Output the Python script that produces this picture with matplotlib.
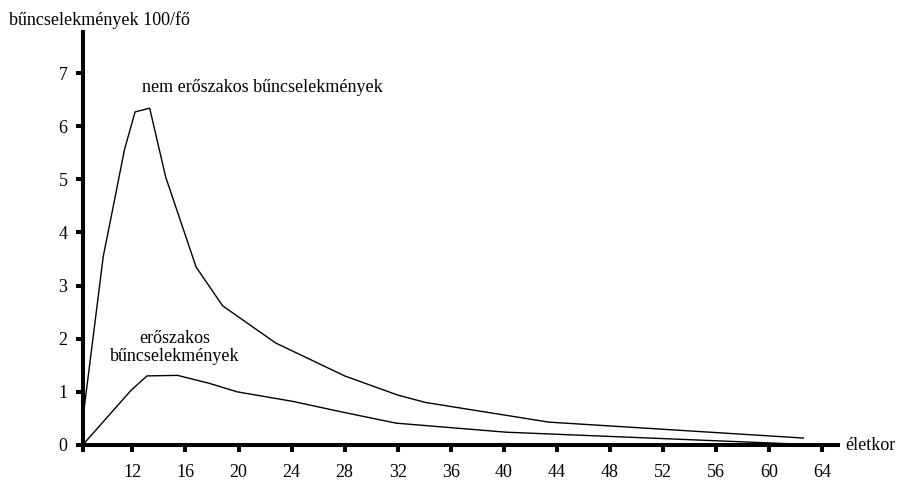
import numpy as np
import matplotlib
matplotlib.use('Agg')
import matplotlib.pyplot as plt

# age (years) and crimes per 100 persons
age_nonviolent = [8.25, 9.8, 10.6, 11.4, 12.2, 13.3, 14.5, 16.8, 18.8, 22.8, 28.0, 32.0, 34.1, 43.4, 62.6]
val_nonviolent = [0.47, 3.55, 4.55, 5.56, 6.27, 6.34, 5.05, 3.35, 2.62, 1.92, 1.30, 0.94, 0.80, 0.43, 0.13]

age_violent = [8.25, 11.9, 13.1, 15.4, 17.8, 19.9, 24.1, 28.0, 31.9, 40.2, 61.8]
val_violent = [0.0, 1.03, 1.30, 1.31, 1.16, 1.0, 0.82, 0.61, 0.41, 0.24, 0.02]

xticks = [12, 16, 20, 24, 28, 32, 36, 40, 44, 48, 52, 56, 60, 64]
yticks = [0, 1, 2, 3, 4, 5, 6, 7]

plt.rcParams['font.family'] = ['Liberation Serif', 'DejaVu Serif']
fs = 13

fig = plt.figure(figsize=(8.99, 4.8), dpi=100)
ax = fig.add_axes([0.092, 0.073, 0.840, 0.861])

ax.plot(age_nonviolent, val_nonviolent, color='black', lw=1.0, clip_on=False)
ax.plot(age_violent, val_violent, color='black', lw=1.0, clip_on=False)

ax.set_xlim(8.25, 65.2)
ax.set_ylim(0, 7.78)

for s in ['top', 'right']:
    ax.spines[s].set_visible(False)
for s in ['left', 'bottom']:
    ax.spines[s].set_linewidth(2.9)

ax.set_xticks([8.25] + xticks)
ax.set_xticklabels([''] + [str(t) for t in xticks])
ax.set_yticks(yticks)
ax.tick_params(axis='x', length=5, width=2.9, pad=9, labelsize=fs)
ax.tick_params(axis='y', length=5, width=2.9, pad=6, labelsize=fs)

ax.text(12.75, 6.72, 'nem erőszakos bűncselekmények', fontsize=fs, ha='left', va='center')
ax.text(15.2, 1.83, 'erőszakos\nbűncselekmények', fontsize=fs, ha='center', va='center',
        linespacing=1.05)

fig.text(845 / 899, 1 - 445 / 480, 'életkor', fontsize=fs, ha='left', va='center')
fig.text(9 / 899, 1 - 20 / 480, 'bűncselekmények 100/fő', fontsize=fs, ha='left', va='center')

fig.savefig('out.png', dpi=100)
